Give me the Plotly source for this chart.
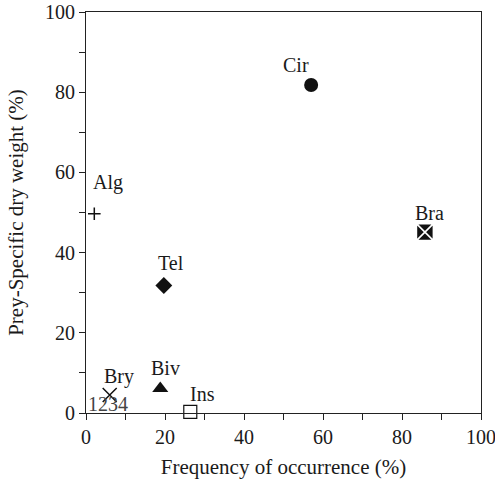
import plotly.graph_objects as go

# Data
prey = ["Cir", "Bra", "Alg", "Tel", "Bry", "Biv", "Ins"]
freq = [57.0, 85.8, 2.1, 19.7, 6.0, 18.8, 26.4]
weight = [81.8, 45.1, 49.7, 31.8, 4.5, 6.1, 0.3]

x_ticks = [0, 20, 40, 60, 80, 100]
y_ticks = [0, 20, 40, 60, 80, 100]

# Styles
symbols = ["circle", "square-x", "cross-thin-open", "diamond", "x-thin-open", "triangle-up", "square-open"]
sizes = [14, 17, 9, 13, 14, 14, 13]
line_colors = ["#111", "white", "#111", "#111", "#111", "#111", "#111"]
line_widths = [0, 1.6, 1.5, 0, 1.5, 0, 1.2]
label_dx = [-15, 5, 14, 7, 9, 5, 12]
label_dy = [20, 19, 31, 22, 18, 21, 18]

FONT = "Liberation Serif, Times New Roman, serif"
INK = "#1a1a1a"
FS = 20
FS_TITLE = 21

fig = go.Figure()
for i, name in enumerate(prey):
    fig.add_trace(go.Scatter(
        x=[freq[i]], y=[weight[i]], mode="markers", name=name,
        marker=dict(symbol=symbols[i], size=sizes[i], color="#111",
                    line=dict(color=line_colors[i], width=line_widths[i])),
        showlegend=False, cliponaxis=False, hoverinfo="skip",
    ))
    fig.add_annotation(x=freq[i], y=weight[i], text=name, showarrow=False,
                       xshift=label_dx[i], yshift=label_dy[i],
                       font=dict(family=FONT, size=FS, color=INK))

# stray label near origin
fig.add_annotation(x=0, y=0, text="1234", showarrow=False, xanchor="left",
                   yanchor="bottom", xshift=0, yshift=-4,
                   font=dict(family=FONT, size=FS, color="#444"))

axis_common = dict(
    showgrid=False, zeroline=False, showline=True, linecolor="#222", linewidth=1.2,
    mirror=True, ticks="outside", ticklen=6, tickcolor="#222", tickwidth=1.2,
    tickfont=dict(family=FONT, size=FS, color=INK), ticklabeloverflow="allow",
    minor=dict(ticks="outside", ticklen=6, tickcolor="#222", tickwidth=1.2, dtick=10),
)

fig.update_xaxes(range=[0, 100], tickvals=x_ticks, title=dict(
    text="Frequency of occurrence (%)", font=dict(family=FONT, size=FS_TITLE, color=INK), standoff=12),
    **axis_common)
fig.update_yaxes(range=[0, 100], tickvals=y_ticks, title=dict(
    text="Prey-Specific dry weight (%)", font=dict(family=FONT, size=FS_TITLE, color=INK), standoff=15),
    **axis_common)

fig.update_layout(
    width=495, height=487,
    margin=dict(l=86, r=14, t=12, b=74, autoexpand=False),
    paper_bgcolor="white", plot_bgcolor="white",
)

# remove the browser's default body margin so the figure fills the window
fig.write_html("out.html", config={"displayModeBar": False},
               post_script="document.body.style.margin='0';document.body.style.overflow='hidden';")
